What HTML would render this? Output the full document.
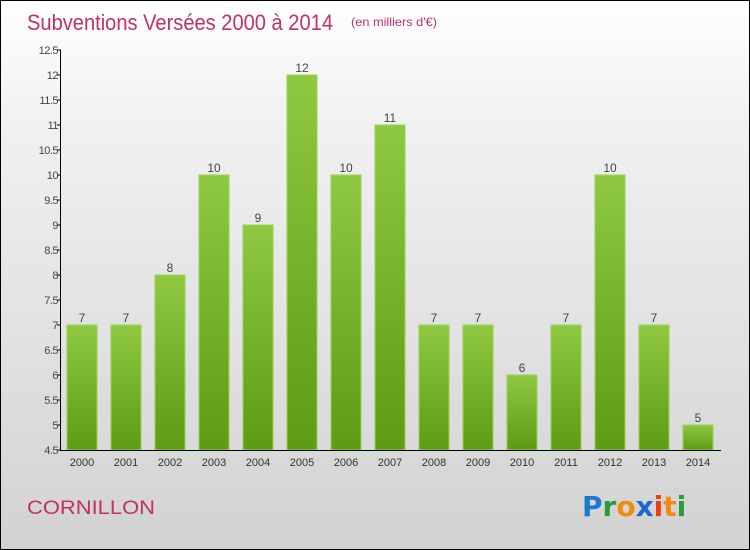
<!DOCTYPE html>
<html><head><meta charset="utf-8"><style>
body{margin:0}
#c{width:750px;height:550px;position:relative;box-sizing:border-box;border:1px solid #000;background:linear-gradient(#ffffff,#f2f2f2 20%,#d2d2d2);font-family:"Liberation Sans",sans-serif;overflow:hidden}
</style></head><body>
<div id="c">
<svg width="750" height="550" style="position:absolute;left:-1px;top:-1px" id="svg">
<defs><linearGradient id="g" x1="0" y1="0" x2="0" y2="1"><stop offset="0" stop-color="#8fc942"/><stop offset="1" stop-color="#5e9a14"/></linearGradient></defs>
<text x="27" y="30" font-size="22" fill="#c0306a" textLength="306" lengthAdjust="spacingAndGlyphs" font-weight="300">Subventions Versées 2000 à 2014</text>
<text x="351" y="26" font-size="12" fill="#c0306a" textLength="86" lengthAdjust="spacingAndGlyphs">(en milliers d'€)</text>
<text x="27" y="514" font-size="19" fill="#c0306a" textLength="128" lengthAdjust="spacingAndGlyphs">CORNILLON</text>
<g font-size="28" font-family="'DejaVu Sans',sans-serif" font-weight="bold">
<text x="582" y="516"><tspan fill="#1a7ad0">P</tspan><tspan fill="#2a9a3a">r</tspan><tspan fill="#f08a10">o</tspan><tspan fill="#1a6ad0">x</tspan><tspan fill="#e84010">i</tspan><tspan fill="#f08a10">t</tspan><tspan fill="#2a9a3a">i</tspan></text></g>
<g id="plot"></g>
</svg></div>
<script>
const categories=["2000","2001","2002","2003","2004","2005","2006","2007","2008","2009","2010","2011","2012","2013","2014"];
const values=[7,7,8,10,9,12,10,11,7,7,6,7,10,7,5];
const yTicks=[4.5,5,5.5,6,6.5,7,7.5,8,8.5,9,9.5,10,10.5,11,11.5,12,12.5];
const yMin=4.5,yMax=12.5;
const y=v=>450-(v-yMin)/(yMax-yMin)*400;
const x=i=>82+i*44;
const ns="http://www.w3.org/2000/svg",p=document.getElementById('plot');
function mk(t,a,txt){const e=document.createElementNS(ns,t);for(const k in a)e.setAttribute(k,a[k]);if(txt!==undefined)e.textContent=txt;p.appendChild(e);return e;}
values.forEach((v,i)=>{
const r=mk('rect',{x:x(i)-15,y:y(v),width:30,height:450-y(v),fill:'url(#g)',stroke:'#9ad252','stroke-width':1});


const t=mk('text',{x:x(i),y:y(v)-3,'text-anchor':'middle','font-size':12,fill:'#444'},String(v));


const c=mk('text',{x:x(i),y:466,'text-anchor':'middle','font-size':11,fill:'#333'},categories[i]);


});
yTicks.forEach(v=>{
const l=mk('line',{x1:57,x2:61,y1:y(v),y2:y(v),stroke:'#000'});


const t=mk('text',{x:58,y:y(v)+4,'text-anchor':'end','font-size':11,fill:'#444','letter-spacing':'-0.5'},String(v));


});
const ya=mk('line',{x1:60.5,x2:60.5,y1:50,y2:450,stroke:'#000'});


const xa=mk('line',{x1:60,x2:721,y1:450.5,y2:450.5,stroke:'#000'});


</script>
</body></html>
